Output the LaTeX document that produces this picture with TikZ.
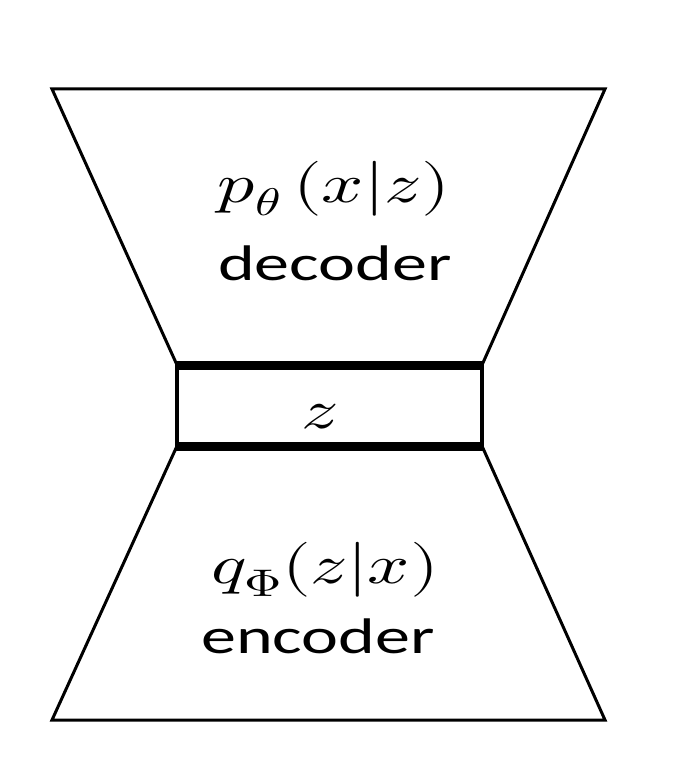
\documentclass[tikz,border=0pt]{standalone}
\usepackage{unicode-math}
\setsansfont{Carlito}
\begin{document}
\begin{tikzpicture}[x=1pt, y=-1pt, every node/.style={font=\fontsize{50}{60}\selectfont, anchor=base, xscale=1.4, transform shape},
    formula/.style={font=\fontsize{55}{66}\selectfont, xscale=0.96}]
  \useasboundingbox (0,0) rectangle (690,765);
  % decoder and encoder
  \draw[line width=3pt] (52,89) -- (605,89) -- (482,365) -- (177,365) -- cycle;
  \draw[line width=3pt] (177,446) -- (482,446) -- (605,720) -- (52,720) -- cycle;
  % latent box
  \draw[line width=4pt] (177,365) rectangle (482,446);
  \draw[line width=9pt] (175,365) -- (484,365);
  \draw[line width=9pt] (175,446) -- (484,446);
  \node[formula] (pdec) at (334,202) {$p_\theta\,(x|z)$};
  \node (dec) at (335,280) {\sffamily decoder};
  \node[formula] (lat) at (320,428) {$z$};
  \node[formula] (qenc) at (325,583) {$q_\Phi(z|x)$};
  \node (enc) at (318,653) {\sffamily encoder};
\end{tikzpicture}
\end{document}
